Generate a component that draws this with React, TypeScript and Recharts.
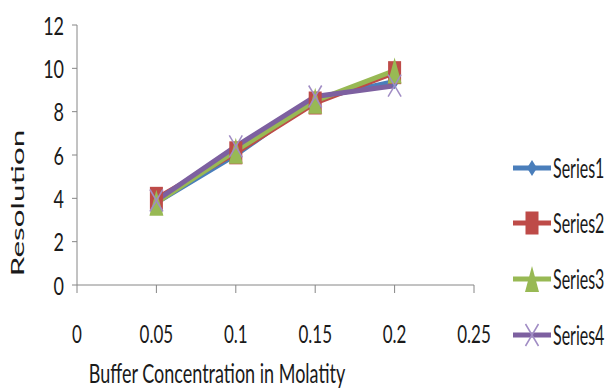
import { LineChart, Line, XAxis, YAxis, Legend } from 'recharts';

const concentrations = [0.05, 0.1, 0.15, 0.2];
const series1 = [3.8, 6.0, 8.6, 9.4];
const series2 = [4.0, 6.1, 8.4, 9.8];
const series3 = [3.8, 6.2, 8.5, 9.9];
const series4 = [3.9, 6.4, 8.7, 9.2];
const seriesNames = ['Series1', 'Series2', 'Series3', 'Series4'];
const xTicks = [0, 0.05, 0.1, 0.15, 0.2, 0.25];
const yTicks = [0, 2, 4, 6, 8, 10, 12];

const colors = ['#4A7EBB', '#BE4B48', '#98B954', '#7D60A0'];
const markers = ['diamond', 'square', 'triangle', 'x'];
const FONT = 'Lato, "Open Sans", sans-serif';
const AXIS = '#868686';

const data = concentrations.map((x, i) => ({
  x,
  s1: series1[i],
  s2: series2[i],
  s3: series3[i],
  s4: series4[i],
}));

// the original picture is stretched vertically, so markers are taller than wide
function Marker({ kind, cx, cy, color }: any) {
  if (cx == null || cy == null) return null;
  if (kind === 'diamond') {
    return <polygon points={`${cx},${cy - 8} ${cx + 5},${cy} ${cx},${cy + 8} ${cx - 5},${cy}`} fill={color} />;
  }
  if (kind === 'square') {
    return <rect x={cx - 6.5} y={cy - 11.5} width={13} height={23} fill={color} />;
  }
  if (kind === 'triangle') {
    return <polygon points={`${cx},${cy - 13} ${cx + 7},${cy + 13} ${cx - 7},${cy + 13}`} fill={color} />;
  }
  return (
    <g stroke="#A08CC4" strokeWidth={1.5}>
      <line x1={cx - 6.5} y1={cy - 11} x2={cx + 6.5} y2={cy + 11} />
      <line x1={cx - 6.5} y1={cy + 11} x2={cx + 6.5} y2={cy - 11} />
    </g>
  );
}

const YTick = ({ x, y, payload }: any) => (
  <text
    transform={`translate(${x - 6},${y}) scale(1,1.4)`}
    textAnchor="end"
    dominantBaseline="central"
    fontFamily={FONT}
    fontSize={18}
    fill="#1a1a1a"
  >
    {payload.value}
  </text>
);

const XTick = ({ x, y, payload }: any) => (
  <text
    transform={`translate(${x},${y + 39}) scale(1,1.45)`}
    textAnchor="middle"
    dominantBaseline="central"
    fontFamily={FONT}
    fontSize={17}
    fill="#1a1a1a"
  >
    {payload.value}
  </text>
);

const legendRows = [168, 223, 279, 335];

function LegendBox({ payload }: any) {
  return (
    <svg width={103} height={230}>
      {(payload || []).map((entry: any, i: number) => {
        const cy = legendRows[i] - 140;
        return (
          <g key={entry.value}>
            <line x1={8} y1={cy} x2={46} y2={cy} stroke={colors[i]} strokeWidth={5} />
            <Marker kind={markers[i]} cx={27} cy={cy} color={colors[i]} />
            <text
              transform={`translate(48,${cy}) scale(1,1.65)`}
              dominantBaseline="central"
              fontFamily={FONT}
              fontSize={16}
              fill="#1a1a1a"
            >
              {entry.value}
            </text>
          </g>
        );
      })}
    </svg>
  );
}

export default function App() {
  const keys = ['s1', 's2', 's3', 's4'];
  return (
    <div style={{ position: 'absolute', left: 0, top: 0, width: 608, height: 388, background: '#fff' }}>
      <LineChart width={608} height={388} data={data} margin={{ top: 25, right: 134, bottom: 0, left: 0 }}>
        <XAxis
          dataKey="x"
          type="number"
          domain={[0, 0.25]}
          ticks={xTicks}
          interval={0}
          height={103}
          tickSize={8}
          stroke={AXIS}
          tick={<XTick />}
        />
        <YAxis
          domain={[0, 12]}
          ticks={yTicks}
          interval={0}
          width={77}
          tickSize={5}
          stroke={AXIS}
          tick={<YTick />}
        />
        <Legend
          layout="vertical"
          align="center"
          verticalAlign="middle"
          wrapperStyle={{ left: 505, top: 140, width: 103, height: 230 }}
          content={<LegendBox />}
        />
        {keys.map((k, i) => (
          <Line
            key={k}
            dataKey={k}
            name={seriesNames[i]}
            stroke={colors[i]}
            strokeWidth={5}
            isAnimationActive={false}
            dot={(p: any) => <Marker key={`${k}-${p.index}`} kind={markers[i]} cx={p.cx} cy={p.cy} color={colors[i]} />}
            activeDot={false}
          />
        ))}
        <text
          transform="translate(17,203) rotate(-90) scale(1.75,1)"
          textAnchor="middle"
          dominantBaseline="central"
          fontFamily={FONT}
          fontSize={18}
          fill="#1a1a1a"
        >
          Resolution
        </text>
        <text
          transform="translate(217,383) scale(1,1.5)"
          textAnchor="middle"
          fontFamily={FONT}
          fontSize={18}
          fill="#1a1a1a"
        >
          Buffer Concentration in  Molatity
        </text>
      </LineChart>
    </div>
  );
}
